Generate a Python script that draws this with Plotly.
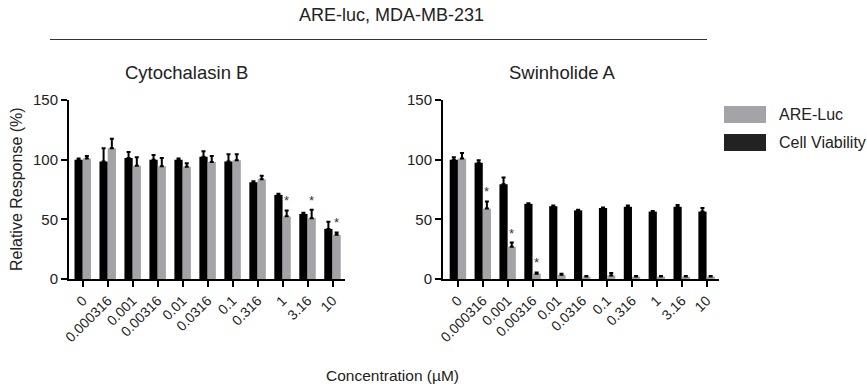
import plotly.graph_objects as go

categories = ["0", "0.000316", "0.001", "0.00316", "0.01", "0.0316", "0.1", "0.316", "1", "3.16", "10"]

# Cytochalasin B
cb_viab = [100, 98.5, 101.5, 100, 100, 102.5, 98.5, 81, 70.5, 54.5, 42]
cb_viab_err = [1, 11, 5, 4, 1, 4.5, 6, 1, 1, 1, 6]
cb_luc = [101, 109.5, 95, 94.5, 94, 98, 99.5, 83.5, 52.5, 51, 37]
cb_luc_err = [2, 8, 7, 7, 3, 5, 5, 3, 5, 7, 2]
cb_sig = [False, False, False, False, False, False, False, False, True, True, True]

# Swinholide A
sw_viab = [100, 97.5, 79.5, 63, 61, 57.5, 59.5, 60.5, 56.5, 60.5, 56.5]
sw_viab_err = [2, 2, 5.5, 0.5, 0.5, 0.5, 0.5, 1, 0.5, 1.5, 3]
sw_luc = [101, 59, 27, 4.5, 3.5, 2, 3, 2, 2, 2, 2]
sw_luc_err = [4.5, 6, 3.5, 1, 1, 0.5, 2, 0.5, 0.5, 0.5, 0.5]
sw_sig = [False, True, True, True, False, False, False, False, False, False, False]

series_names = ["ARE-Luc", "Cell Viability"]
y_ticks = [0, 50, 100, 150]

GRAY = "#a4a4a8"
BLACK = "#000000"
FONT = "Liberation Sans, Arial, sans-serif"
TXT = "#222222"

W, H = 867, 389


def px(x):
    return x / W


def py(y):
    return 1 - y / H


fig = go.Figure()

panels = [
    (cb_viab, cb_viab_err, cb_luc, cb_luc_err, cb_sig, "x", "y"),
    (sw_viab, sw_viab_err, sw_luc, sw_luc_err, sw_sig, "x2", "y2"),
]

for viab, verr, luc, lerr, sig, xa, ya in panels:
    fig.add_trace(go.Bar(
        x=categories, y=viab, marker=dict(color=BLACK, line=dict(width=0)),
        error_y=dict(type="data", symmetric=False, array=verr, arrayminus=[0] * len(verr),
                     color=BLACK, thickness=2, width=2),
        xaxis=xa, yaxis=ya, showlegend=False, name=series_names[1],
    ))
    fig.add_trace(go.Bar(
        x=categories, y=luc, marker=dict(color=GRAY, line=dict(width=0)),
        error_y=dict(type="data", symmetric=False, array=lerr, arrayminus=[0] * len(lerr),
                     color=BLACK, thickness=2, width=2),
        xaxis=xa, yaxis=ya, showlegend=False, name=series_names[0],
    ))
    for i, (v, e, s) in enumerate(zip(luc, lerr, sig)):
        if s:
            fig.add_annotation(x=i, y=v + e, xref=xa, yref=ya, text="*", showarrow=False,
                               xanchor="center", yanchor="bottom", xshift=4, yshift=0,
                               font=dict(family=FONT, size=13, color="#333"))

axis_common = dict(
    showgrid=False, zeroline=False, showline=True, linecolor=BLACK, linewidth=2,
    ticks="outside", ticklen=6, tickwidth=2, tickcolor=BLACK, automargin=False,
)

ydom = [py(279), py(100)]
fig.update_layout(
    width=W, height=H, autosize=False,
    margin=dict(l=0, r=0, t=0, b=0, pad=0, autoexpand=False),
    paper_bgcolor="white", plot_bgcolor="white",
    showlegend=False,
    barmode="group", bargap=0.34, bargroupgap=0,
    font=dict(family=FONT, color=TXT),
    xaxis=dict(domain=[px(69), px(345)], range=[-0.55, 10.5], type="category",
               tickangle=-45, tickfont=dict(size=14, color=TXT), anchor="y", **axis_common),
    yaxis=dict(domain=ydom, range=[0, 150], tickvals=y_ticks, anchor="x",
               tickfont=dict(size=15, color=TXT), **axis_common),
    xaxis2=dict(domain=[px(443), px(719)], range=[-0.6, 10.5], type="category",
                tickangle=-45, tickfont=dict(size=14, color=TXT), anchor="y2", **axis_common),
    yaxis2=dict(domain=ydom, range=[0, 150], tickvals=y_ticks, anchor="x2",
                tickfont=dict(size=15, color=TXT), **axis_common),
)


def label(x, y, text, size, angle=0, xanchor="center"):
    fig.add_annotation(x=px(x), y=py(y), xref="paper", yref="paper", text=text,
                       textangle=angle, showarrow=False, xanchor=xanchor, yanchor="middle",
                       borderpad=0, font=dict(family=FONT, size=size, color=TXT))


label(391, 15, "ARE-luc, MDA-MB-231", 18)
fig.add_shape(type="line", xref="paper", yref="paper", x0=px(50), x1=px(707), y0=py(39.5), y1=py(39.5),
              line=dict(color="#333", width=1))
label(186, 72, "Cytochalasin B", 18.5)
label(562, 72, "Swinholide A", 18.5)
label(16, 189, "Relative Response (%)", 16, angle=-90)
label(392, 375, "Concentration (µM)", 15.5)

legend_items = [(series_names[0], GRAY, 114.5), (series_names[1], "#222222", 142.5)]
for name, col, yc in legend_items:
    fig.add_shape(type="rect", xref="paper", yref="paper", x0=px(724), x1=px(766),
                  y0=py(yc + 8.5), y1=py(yc - 8.5), fillcolor=col, line=dict(width=0), layer="above")
    label(778, yc, name, 16, xanchor="left")

fig.write_html("out.html", config={"displayModeBar": False},
               post_script="document.body.style.margin='0px';")
